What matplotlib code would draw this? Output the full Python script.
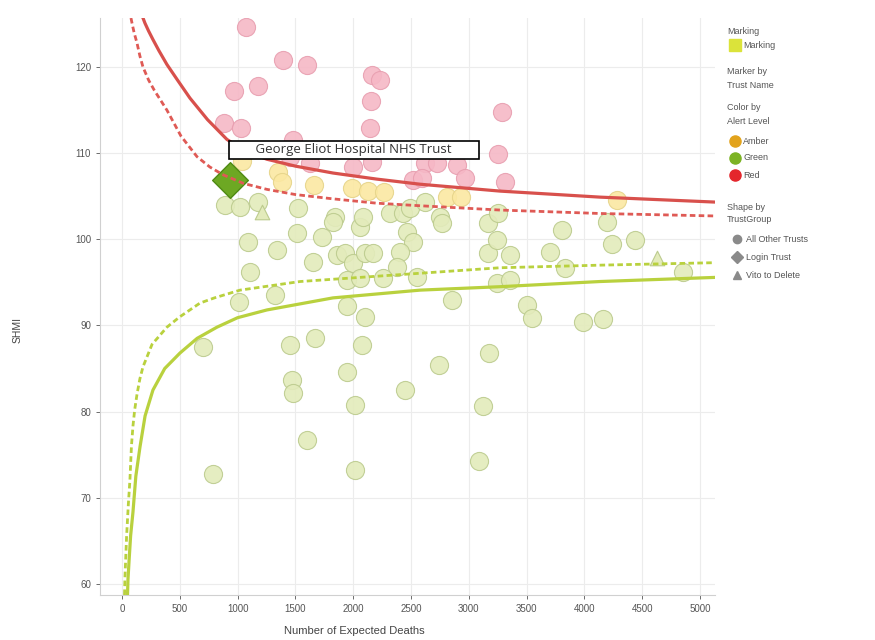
import matplotlib
matplotlib.use('Agg')
import matplotlib.pyplot as plt

plt.rcParams['font.family'] = ['Liberation Sans', 'DejaVu Sans']

# trust points (expected deaths, SHMI)
red_x = [1073, 1393, 1600, 969, 1176, 2163, 2232, 2154, 3287, 882, 1029, 2145,
         1479, 3253, 1453, 1626, 1998, 2163, 2621, 2725, 2898, 2967, 2517, 2595, 3313]
red_y = [124.6, 120.8, 120.3, 117.2, 117.8, 119.1, 118.5, 116.1, 114.8, 113.5, 112.9, 112.9,
         111.5, 109.9, 109.6, 108.9, 108.4, 109.0, 108.9, 108.9, 108.6, 107.1, 106.9, 107.1, 106.7]

amber_x = [1038, 1349, 1384, 1661, 1990, 2128, 2266, 2811, 2933, 4282]
amber_y = [109.1, 107.8, 106.7, 106.3, 106.0, 105.6, 105.5, 104.9, 104.9, 104.6]

green_x = [891, 1021, 1176, 1522, 1090, 1341, 1514, 1730, 1843, 1825, 2059, 2085,
           1652, 1860, 1929, 1998, 2102, 1107, 1324, 1012, 1946, 2059, 1946, 2102,
           2318, 2431, 2491, 2751, 2768, 2621, 3166, 3253, 3806, 2465, 2517, 2405,
           2171, 3166, 3244, 3356, 3702, 2379, 2552, 2258, 3244, 3356, 3832, 2855,
           3503, 3547, 701, 1453, 1670, 2076, 1471, 1479, 1946, 2016, 2448, 1600,
           787, 2016, 3988, 4161, 3175, 2742, 3123, 3088, 4196, 4239, 4438, 4853]
green_y = [104.0, 103.8, 104.3, 103.6, 99.7, 98.8, 100.7, 100.3, 102.6, 102.0, 101.4, 102.6,
           97.4, 98.2, 98.4, 97.3, 98.4, 96.2, 93.5, 92.7, 95.3, 95.5, 92.2, 91.0,
           103.1, 103.1, 103.6, 102.6, 101.9, 104.3, 101.9, 103.1, 101.1, 100.9, 99.7, 98.5,
           98.4, 98.4, 99.9, 98.2, 98.5, 96.8, 95.6, 95.5, 94.9, 95.3, 96.7, 93.0,
           92.4, 90.9, 87.5, 87.7, 88.5, 87.7, 83.7, 82.2, 84.6, 80.8, 82.5, 76.7,
           72.7, 73.2, 90.4, 90.8, 86.8, 85.4, 80.7, 74.3, 102.0, 99.4, 99.9, 96.2]

tri_x = [1211, 4628]
tri_y = [103.2, 97.8]

login_x = [934]
login_y = [106.9]
login_name = 'George Eliot Hospital NHS Trust'

# control limits
upper_outer_x = [182, 199, 230, 268, 320, 389, 480, 588, 740, 908, 1070, 1254, 1500,
                 1825, 2200, 2578, 3270, 4135, 5173]
upper_outer_y = [125.7, 125.1, 124.2, 123.2, 121.9, 120.3, 118.5, 116.4, 113.9, 111.6,
                 110.2, 109.3, 108.5, 107.7, 107.0, 106.4, 105.6, 104.9, 104.3]
upper_inner_x = [78, 87, 105, 130, 155, 182, 230, 280, 389, 510, 649, 760, 874, 1050,
                 1254, 1500, 1825, 2200, 2578, 3270, 4135, 5173]
upper_inner_y = [125.7, 125.1, 124.0, 122.8, 121.3, 120.0, 118.5, 117.3, 115.0, 112.0,
                 109.6, 108.4, 107.5, 106.5, 105.8, 105.2, 104.7, 104.2, 103.9, 103.4, 103.0, 102.7]
lower_inner_x = [22, 26, 40, 55, 69, 82, 95, 110, 130, 155, 182, 260, 389, 500, 675, 800,
                 1021, 1540, 2405, 3270, 4135, 5173]
lower_inner_y = [58.7, 60.8, 65.5, 69.2, 72.1, 76.0, 78.3, 80.2, 82.0, 83.8, 85.2, 87.8,
                 89.8, 91.0, 92.6, 93.2, 94.1, 95.1, 95.9, 96.7, 97.0, 97.3]
lower_outer_x = [48, 52, 62, 75, 95, 120, 156, 200, 268, 370, 502, 650, 822, 1000, 1254,
                 1825, 2578, 3270, 4135, 5173]
lower_outer_y = [58.7, 60.5, 62.8, 65.6, 68.3, 72.5, 75.9, 79.5, 82.5, 85.0, 86.8, 88.5,
                 89.8, 90.9, 91.8, 93.2, 94.1, 94.5, 95.1, 95.6]

x_ticks = [0, 500, 1000, 1500, 2000, 2500, 3000, 3500, 4000, 4500, 5000]
y_ticks = [60, 70, 80, 90, 100, 110, 120]

fig = plt.figure(figsize=(8.75, 6.4), dpi=100)
ax = fig.add_axes([100 / 875, 45 / 640, 615 / 875, 577 / 640])

ax.scatter(green_x, green_y, s=170, c='#e3ebbb', edgecolors='#bccb8e', linewidths=0.8,
           alpha=0.9, zorder=2)
ax.scatter(red_x, red_y, s=170, c='#f6b8c6', edgecolors='#e89fb0', linewidths=0.8,
           alpha=0.9, zorder=2)
ax.scatter(amber_x, amber_y, s=170, c='#fbe8a2', edgecolors='#e6d48a', linewidths=0.8,
           alpha=0.9, zorder=2)
ax.scatter(tri_x, tri_y, s=110, marker='^', c='#e3ebbb', edgecolors='#bccb8e', linewidths=0.8, zorder=2)
ax.scatter(login_x, login_y, s=330, marker='D', c='#6da823', edgecolors='#4f8a14', linewidths=1, zorder=2)

ax.plot(upper_outer_x, upper_outer_y, color='#d8504c', lw=2.3, zorder=3)
ax.plot(upper_inner_x, upper_inner_y, color='#df5a55', lw=2, ls=(0, (2, 1.2)), zorder=3)
ax.plot(lower_inner_x, lower_inner_y, color='#b9d13e', lw=2, ls=(0, (2, 1.2)), zorder=3)
ax.plot(lower_outer_x, lower_outer_y, color='#b9d13e', lw=2.3, zorder=3)

ax.annotate('       ' + login_name + '       ', xy=(login_x[0], login_y[0]), xytext=(1, 17),
            textcoords='offset points', ha='left', va='bottom', fontsize=9.5,
            family=['Open Sans', 'DejaVu Sans'], color='#333333', zorder=5,
            bbox=dict(boxstyle='square,pad=0.2', fc='white', ec='black', lw=1.2))

ax.set_xlim(-190, 5130)
ax.set_ylim(58.7, 125.7)
ax.set_xticks(x_ticks)
ax.set_yticks(y_ticks)
ax.grid(True, color='#ececec', lw=0.8, zorder=0)
ax.set_axisbelow(True)
ax.tick_params(labelsize=7, colors='#555555', length=3, width=0.6)
for s in ['top', 'right']:
    ax.spines[s].set_visible(False)
for s in ['left', 'bottom']:
    ax.spines[s].set_color('#d0d0d0')

fig.text(354 / 875, 1 - 631 / 640, 'Number of Expected Deaths', ha='center', va='center',
         fontsize=8, color='#444444')
fig.text(18 / 875, 1 - 330 / 640, 'SHMI', ha='center', va='center', rotation=90,
         fontsize=7.5, color='#444444')

# legend panel
def px(x, y):
    return x / 875, 1 - y / 640

lg = dict(fontsize=6.5, color='#555555', va='center', ha='left')
fig.text(*px(727, 32), 'Marking', **lg)
fig.patches.append(plt.Rectangle(px(729, 51), 12 / 875, 12 / 640, color='#dbe33a',
                                 transform=fig.transFigure))
fig.text(*px(743, 45), 'Marking', **lg)
fig.text(*px(727, 71), 'Marker by', **lg)
fig.text(*px(727, 85), 'Trust Name', **lg)
fig.text(*px(727, 107), 'Color by', **lg)
fig.text(*px(727, 121), 'Alert Level', **lg)
alerts = ['Amber', 'Green', 'Red']
alert_colors = ['#e2a31c', '#7cb324', '#e4262c']
for i, (lab, col) in enumerate(zip(alerts, alert_colors)):
    yy = 141 + i * 17
    fig.lines.append(plt.Line2D([735 / 875], [1 - yy / 640], marker='o', ms=8, color=col,
                                mec=col, transform=fig.transFigure))
    fig.text(*px(743, yy), lab, **lg)
fig.text(*px(727, 207), 'Shape by', **lg)
fig.text(*px(727, 220), 'TrustGroup', **lg)
shapes = ['All Other Trusts', 'Login Trust', 'Vito to Delete']
shape_marks = ['o', 'D', '^']
for i, (lab, m) in enumerate(zip(shapes, shape_marks)):
    yy = 239 + i * 18
    fig.lines.append(plt.Line2D([737 / 875], [1 - yy / 640], marker=m, ms=6, color='#8a8a8a',
                                mec='#8a8a8a', transform=fig.transFigure))
    fig.text(*px(746, yy), lab, **lg)

fig.savefig('out.png', dpi=100)
